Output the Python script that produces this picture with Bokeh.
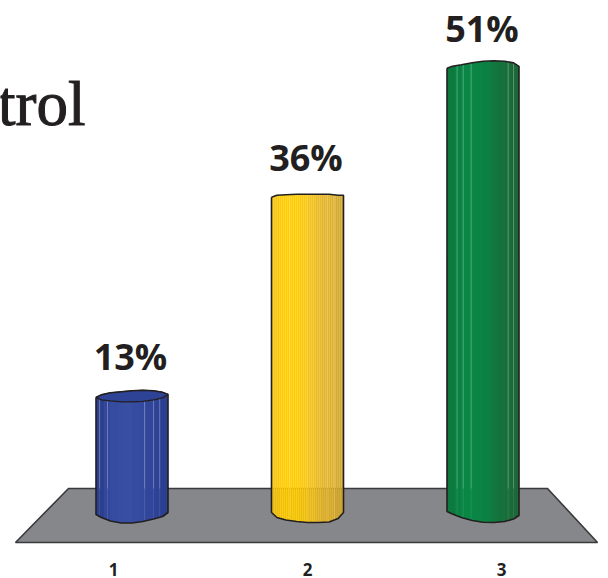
from bokeh.plotting import figure
from bokeh.models import Range1d, LinearAxis, FixedTicker, ColumnDataSource
from bokeh.core.properties import value
from bokeh.embed import file_html
from bokeh.resources import INLINE
import numpy as np

categories = [1, 2, 3]
percent = [13, 36, 51]
labels = ["13%", "36%", "51%"]

W, H = 608, 578
BOTTOM = 30
PXY = 8.7
BASE = 510
PXX = 175.5

y0 = -(H - BOTTOM - BASE) / PXY
y1 = BASE / PXY
x0 = 2 - 307 / PXX
x1 = 2 + (W - 307) / PXX

p = figure(width=W, height=H, output_backend="svg", toolbar_location=None,
           x_range=Range1d(x0, x1), y_range=Range1d(y0, y1),
           min_border_left=0, min_border_right=0, min_border_top=0, min_border_bottom=BOTTOM,
           outline_line_color=None, background_fill_color="white", x_axis_type=None, y_axis_type=None)
p.grid.visible = False


def fx(px):
    return 2 + (px - 307) / PXX


def fy(py):
    return (BASE - py) / PXY


# floor
p.patch([fx(v) for v in (15, 597, 547, 68)], [fy(v) for v in (542, 542, 488, 488)],
        fill_color="#86878a", line_color="#3a3a3c", line_width=1.6)

# tick labels use their own spacing
p.extra_x_ranges["ticks"] = Range1d(2 - 307 / 194, 2 + (W - 307) / 194)
ax = LinearAxis(x_range_name="ticks", ticker=FixedTicker(ticks=categories))
ax.axis_line_color = None
ax.major_tick_line_color = None
ax.minor_tick_line_color = None
ax.major_label_text_font = "Open Sans"
ax.major_label_text_font_style = "bold"
ax.major_label_text_font_size = "17px"
ax.major_label_text_color = "#231f20"
ax.major_label_standoff = 8
p.add_layout(ax, "below")

R = 36 / PXX
# hand-drawn, uneven rims of each cylinder: position across the bar and height in px
rim_u = [-1, -0.85, -0.6, -0.3, 0, 0.3, 0.6, 0.85, 1]
top_rim = [
    [0, 2.5, 4.5, 5.5, 6.5, 7, 6.5, 5, 3],
    [0, 2, 2.6, 3, 3, 3, 3, 2, 2],
    [-1.5, 0.5, 2, 4, 5.5, 6, 5.5, 4, 0.5],
]
front_rim = [0, -2.5, -3.5, -4.5, -4.5, -4, -2.5, -0.5, 3]
bottom_rim = [
    [514, 517, 520.5, 522.5, 522.5, 521, 518.5, 516, 512],
    [512, 517, 519.5, 521, 522, 522, 521.5, 518, 512],
    [511, 513.5, 517, 520, 521.7, 522, 521, 518.5, 515],
]
bands = [
    ["#2c3f8f", "#33479b", "#364ca1", "#374ea2", "#384fa2", "#364ca0", "#344a9e", "#31469a", "#2e4395", "#2c4092"],
    ["#f8c60f", "#fecb05", "#ffcd05", "#ffcd05", "#fbc90c", "#f3c11a", "#e9ba26", "#e3b42a", "#deb02c", "#d3a930"],
    ["#0d7a3e", "#0b8143", "#0a8645", "#0a8645", "#0b8444", "#0c8042", "#12783f", "#16723d", "#1a6e3a", "#1b6838"],
]
hl = [(-0.9, -0.68, 0.35, 0.6, 0.77), (-0.5, 0.0, 0.55, 0.75), (-0.72, -0.55, -0.33, 0.7, 0.85)]
hl_alpha = [0.3, 0.14, 0.3]
edges = np.linspace(-1, 1, 37)
mid = (edges[:-1] + edges[1:]) / 2
floor_back = fy(488)

for i, (x, val, cols) in enumerate(zip(categories, percent, bands)):
    idx = np.minimum(((mid + 1) / 2 * len(cols)).astype(int), len(cols) - 1)
    color = [cols[k] for k in idx]
    top_px = np.array(top_rim[i]) / PXY
    bot_val = (BASE - np.array(bottom_rim[i])) / PXY
    p.vbar(x=x + R * mid, width=R * (edges[1] - edges[0]) * 1.08,
           bottom=np.interp(mid, rim_u, bot_val),
           top=val + np.interp(mid, rim_u, top_px),
           fill_color=color, line_color=None)
    for off in hl[i]:
        tp = val + np.interp(off, rim_u, top_px)
        bt = np.interp(off, rim_u, bot_val)
        p.segment(x + R * off, floor_back, x + R * off, tp,
                  line_color="white", line_alpha=hl_alpha[i], line_width=1)
        p.segment(x + R * off, bt, x + R * off, floor_back,
                  line_color="white", line_alpha=0.1, line_width=1)
    u = np.array(rim_u)
    lx = list(x + R * u) + list(x + R * u[::-1]) + [x + R * u[0]]
    ly = list(val + top_px) + list(bot_val[::-1]) + [val + top_px[0]]
    p.line(lx, ly, line_color="#231f20", line_width=1.6)

# blue bar also shows the inside of its top
u = np.array(rim_u)
blue_top = percent[0] + np.array(top_rim[0]) / PXY
blue_front = percent[0] + np.array(front_rim) / PXY
p.patch(list(categories[0] + R * u) + list(categories[0] + R * u[::-1]),
        list(blue_top) + list(blue_front[::-1]),
        fill_color="#2e4296", line_color="#231f20", line_width=1.4)

label_px = [356, 157, 28]
label_dx = [-1.5 / PXX, -1.5 / PXX, -1 / PXX]
src = ColumnDataSource(dict(x=[c + d for c, d in zip(categories, label_dx)],
                            y=[fy(v) for v in label_px], t=labels))
p.text("x", "y", text="t", source=src, text_font=value("Open Sans"), text_font_style="bold",
       text_font_size="36px", text_align="center", text_baseline="middle", text_color="#231f20")

p.text([fx(85)], [fy(103)], text=["trol"], text_font=value("Liberation Serif"), text_font_size="63px",
       text_align="right", text_baseline="middle", text_color="#231f20",
       text_outline_color="#231f20")

open("out.html", "w").write(file_html(p, INLINE))
